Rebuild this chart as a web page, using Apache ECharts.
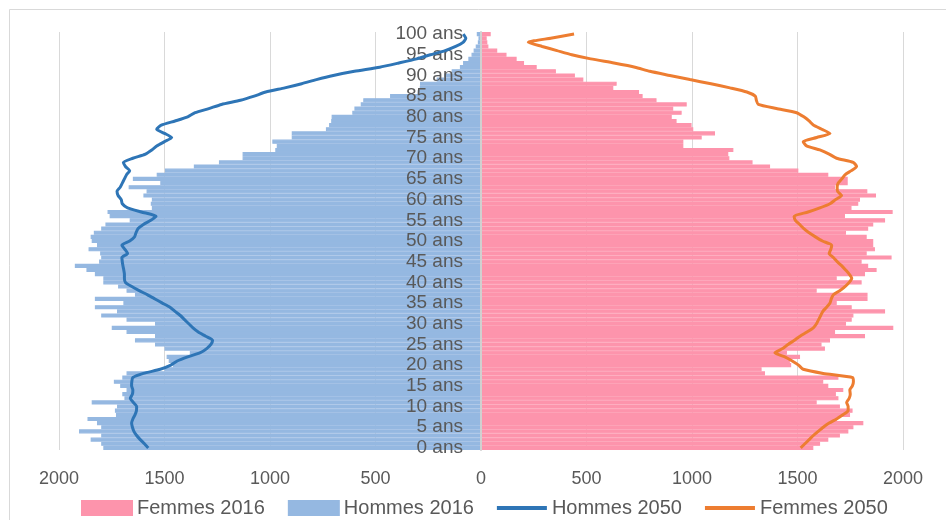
<!DOCTYPE html>
<html><head><meta charset="utf-8">
<script src="https://cdn.jsdelivr.net/npm/echarts@6.0.0/dist/echarts.min.js"></script>
<style>html,body{margin:0;padding:0;background:#fff}#c{width:946px;height:520px}</style>
</head><body><div id="c"></div>
<script>
// Ages 0..100 (category axis index)
const ages = Array.from({length: 101}, (_, i) => String(i));
const ageLabelSuffix = ' ans';
const xTicks = [-2000, -1500, -1000, -500, 0, 500, 1000, 1500, 2000];

const hommes2016 = [1790,1800,1850,1800,1905,1800,1820,1865,1730,1735,
  1725,1845,1690,1700,1680,1710,1740,1700,1680,1500,
  1460,1480,1490,1380,1500,1545,1640,1545,1680,1750,
  1545,1680,1800,1725,1830,1695,1830,1640,1680,1720,
  1790,1790,1830,1870,1925,1810,1800,1805,1860,1820,
  1845,1850,1835,1800,1780,1665,1760,1770,1560,1565,
  1560,1600,1585,1670,1520,1650,1537,1498,1361,1242,
  1130,1130,975,968,989,897,897,735,720,710,
  708,610,600,570,558,431,300,290,289,210,
  175,139,100,85,60,45,35,25,15,12,
  20];

const femmes2016 = [1575,1607,1646,1701,1741,1765,1812,1686,1749,1761,
  1701,1591,1694,1682,1717,1646,1622,1694,1346,1330,
  1470,1464,1512,1450,1630,1614,1654,1820,1678,1954,
  1730,1757,1765,1915,1757,1686,1832,1832,1591,1725,
  1804,1686,1820,1875,1835,1804,1946,1828,1867,1859,
  1859,1828,1730,1835,1859,1915,1725,1951,1756,1788,
  1796,1872,1831,1678,1738,1738,1646,1504,1370,1287,
  1177,1172,1196,959,959,1046,1109,1006,998,927,
  904,951,911,975,832,766,749,627,643,485,
  445,355,264,204,169,121,77,35,30,27,
  46];

const hommes2050 = [1577,1595,1615,1632,1645,1652,1656,1650,1640,1633,
  1632,1648,1662,1652,1650,1656,1655,1650,1600,1520,
  1470,1440,1390,1330,1300,1280,1272,1305,1340,1365,
  1385,1405,1425,1450,1474,1510,1545,1580,1620,1655,
  1685,1690,1690,1693,1697,1700,1702,1675,1688,1702,
  1665,1642,1635,1625,1600,1565,1540,1610,1675,1700,
  1705,1720,1725,1710,1700,1690,1680,1665,1685,1695,
  1650,1590,1560,1535,1500,1466,1500,1537,1515,1450,
  1390,1355,1290,1230,1140,1075,1020,930,850,780,
  700,600,480,390,305,240,170,120,85,72,
  84];

const femmes2050 = [1515,1535,1555,1575,1598,1622,1650,1685,1715,1740,
  1740,1733,1745,1750,1748,1760,1765,1762,1622,1527,
  1505,1475,1440,1393,1430,1455,1485,1512,1545,1575,
  1590,1600,1610,1620,1638,1654,1660,1670,1700,1725,
  1745,1757,1745,1728,1710,1688,1670,1650,1658,1662,
  1618,1585,1555,1530,1510,1490,1484,1550,1606,1654,
  1680,1709,1690,1688,1693,1710,1725,1755,1780,1764,
  1685,1650,1606,1543,1527,1591,1654,1615,1575,1555,
  1530,1496,1400,1314,1305,1300,1260,1180,1090,990,
  895,800,730,630,520,430,360,290,224,330,
  441];

const FONT = "'Liberation Sans', Arial, sans-serif";
const GRID_LEFT = 59, GRID_RIGHT = 43;
const PLOT_W = 946 - GRID_LEFT - GRID_RIGHT;
const LINE_ICON = 'path://M0,0 L0,0 M0,5 L50,5 L50,9 L0,9 Z M0,14 L0,14';
const PINK = '#fd94ac', BLUE_BAR = '#95b8e1';

const chart = echarts.init(document.getElementById('c'), null, {renderer: 'canvas'});
chart.setOption({
  animation: false,
  backgroundColor: '#ffffff',
  graphic: [{
    type: 'rect', left: 7, top: 7, z: -10,
    shape: {width: 1000, height: 600},
    style: {fill: 'none', stroke: '#d9d9d9', lineWidth: 1}
  }],
  grid: {left: GRID_LEFT, right: GRID_RIGHT, top: 32, bottom: 70, containLabel: false, outerBoundsMode: 'none'},
  legend: {
    left: 76, top: 493,
    itemWidth: 50, itemHeight: 14, itemGap: 23,
    textStyle: {fontSize: 20, color: '#595959', fontFamily: FONT},
    data: [
      {name: 'Femmes 2016', icon: 'rect'},
      {name: 'Hommes 2016', icon: 'rect'},
      {name: 'Hommes 2050', icon: LINE_ICON},
      {name: 'Femmes 2050', icon: LINE_ICON}
    ]
  },
  xAxis: {
    type: 'value', min: xTicks[0], max: xTicks[xTicks.length - 1], interval: 500,
    axisLine: {show: false}, axisTick: {show: false},
    splitLine: {show: true, lineStyle: {color: '#d9d9d9', width: 1}},
    axisLabel: {
      fontSize: 18, color: '#595959', fontFamily: FONT, margin: 20,
      formatter: v => String(Math.abs(v))
    }
  },
  yAxis: {
    type: 'category', data: ages, z: 10, position: 'left',
    offset: -PLOT_W / 2,
    axisLine: {show: true, onZero: false, lineStyle: {color: '#d0d0d0', width: 2}},
    axisTick: {show: false},
    axisLabel: {
      interval: 4, fontSize: 19, color: '#595959', fontFamily: FONT, margin: 18,
      formatter: v => v + ageLabelSuffix
    }
  },
  series: [
    {
      name: 'Femmes 2016', type: 'bar', data: femmes2016, z: 2,
      barWidth: '100%', barGap: '-100%',
      itemStyle: {color: PINK, borderColor: PINK, borderWidth: 1.2}
    },
    {
      name: 'Hommes 2016', type: 'bar', data: hommes2016.map(v => -v), z: 2,
      barWidth: '100%', barGap: '-100%',
      itemStyle: {color: BLUE_BAR, borderColor: BLUE_BAR, borderWidth: 1.2}
    },
    {
      name: 'Hommes 2050', type: 'line', data: hommes2050.map(v => -v), z: 12,
      symbol: 'none', smooth: 0.2,
      lineStyle: {color: '#2e75b6', width: 3}, itemStyle: {color: '#2e75b6'}
    },
    {
      name: 'Femmes 2050', type: 'line', data: femmes2050, z: 12,
      symbol: 'none', smooth: 0.2,
      lineStyle: {color: '#ed7d31', width: 3}, itemStyle: {color: '#ed7d31'}
    }
  ]
});
</script>
</body></html>
